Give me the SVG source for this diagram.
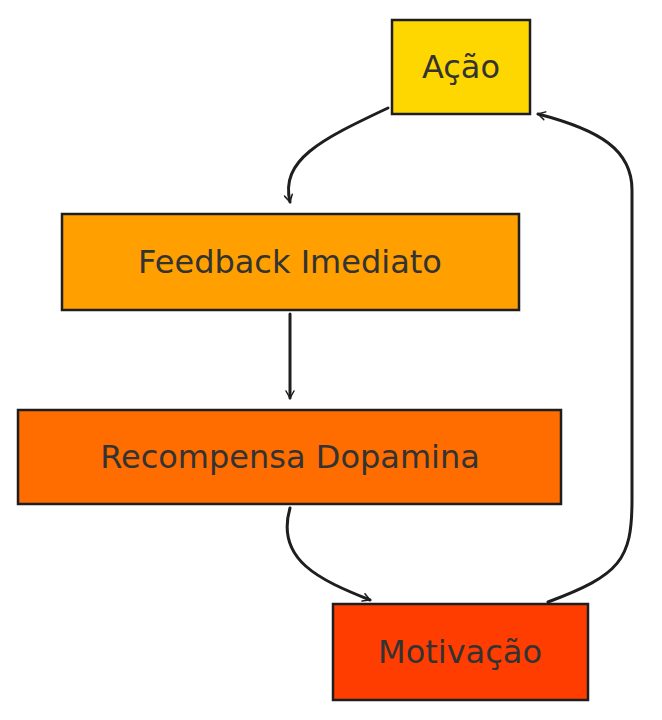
<svg xmlns="http://www.w3.org/2000/svg" width="662" height="720" viewBox="0 0 662 720">
<style>
.box{stroke:#1e1e1e;stroke-width:2.5}
.lbl{font-family:"DejaVu Sans","Noto Sans",sans-serif;font-size:32px;fill:#333;text-anchor:middle;dominant-baseline:central}
.c{fill:none;stroke:#1e1e1e;stroke-width:3;stroke-linecap:round;marker-end:url(#ah)}
</style>
<defs>
<marker id="ah" viewBox="0 0 20 20" refX="16" refY="10" markerWidth="10" markerHeight="10" orient="auto" markerUnits="userSpaceOnUse">
<path d="M2,2 L16,10 L2,18" fill="none" stroke="#1e1e1e" stroke-width="3" stroke-linecap="round"/>
</marker>
</defs>
<rect width="662" height="720" fill="#fff"/>
<g id="connectors">
<path class="c" d="M388,108 C320,140 280,160 290,202"/>
<path class="c" d="M290,314 L290,398"/>
<path class="c" d="M290,508 C275,560 320,580 370,600"/>
<path class="c" d="M548,602 C620,575 632,560 632,500 L632,190 C632,150 600,130 538,114"/>
</g>
<g id="acao"><rect class="box" x="392" y="20" width="138" height="94" fill="#FFD700"/><text class="lbl" x="461" y="67">Ação</text></g>
<g id="feedback"><rect class="box" x="62" y="214" width="457" height="96" fill="#FFA000"/><text class="lbl" x="290" y="262">Feedback Imediato</text></g>
<g id="recompensa"><rect class="box" x="18" y="410" width="543" height="94" fill="#FF6D00"/><text class="lbl" x="290" y="457">Recompensa Dopamina</text></g>
<g id="motivacao"><rect class="box" x="333" y="604" width="255" height="96" fill="#FF3D00"/><text class="lbl" x="460" y="652">Motivação</text></g>
</svg>
